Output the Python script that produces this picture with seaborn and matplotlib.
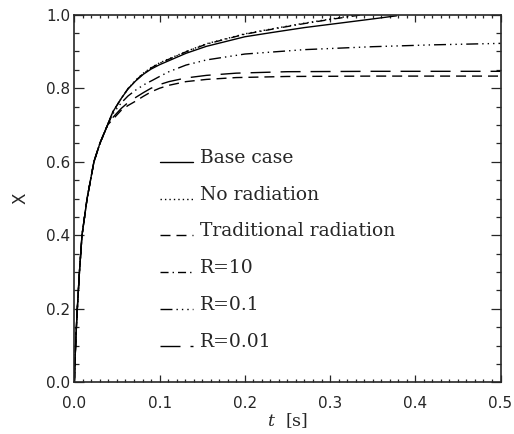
import numpy as np
import pandas as pd
import matplotlib
matplotlib.use("Agg")
import matplotlib.pyplot as plt
from matplotlib.ticker import MultipleLocator
import seaborn as sns

# --- data ---
t_early = [0, 0.001, 0.002, 0.0035, 0.006, 0.009, 0.015, 0.023, 0.03, 0.039]
x_early = [0, 0.07, 0.13, 0.2, 0.3, 0.4, 0.5, 0.6, 0.65, 0.7]

t_base = t_early + [0.045, 0.055, 0.063, 0.072, 0.081, 0.09, 0.1, 0.111, 0.131, 0.155, 0.2, 0.233, 0.27, 0.311, 0.345, 0.378]
x_base = x_early + [0.735, 0.772, 0.798, 0.82, 0.838, 0.852, 0.864, 0.875, 0.895, 0.914, 0.94, 0.952, 0.965, 0.977, 0.987, 0.997]

t_norad = t_early + [0.045, 0.055, 0.063, 0.072, 0.081, 0.09, 0.1, 0.111, 0.131, 0.155, 0.2, 0.233, 0.27, 0.3, 0.33]
x_norad = x_early + [0.735, 0.772, 0.799, 0.822, 0.841, 0.856, 0.869, 0.88, 0.9, 0.921, 0.948, 0.962, 0.977, 0.988, 0.999]

t_r10 = t_early + [0.045, 0.055, 0.063, 0.072, 0.081, 0.09, 0.1, 0.111, 0.131, 0.155, 0.2, 0.233, 0.27, 0.3, 0.335]
x_r10 = x_early + [0.735, 0.772, 0.799, 0.821, 0.84, 0.855, 0.868, 0.879, 0.899, 0.92, 0.947, 0.961, 0.976, 0.987, 0.999]

t_r01 = t_early + [0.045, 0.055, 0.063, 0.072, 0.082, 0.092, 0.1, 0.111, 0.131, 0.155, 0.2, 0.27, 0.35, 0.42, 0.5]
x_r01 = x_early + [0.73, 0.76, 0.779, 0.795, 0.81, 0.822, 0.832, 0.845, 0.863, 0.877, 0.893, 0.905, 0.913, 0.918, 0.922]

t_r001 = t_early + [0.045, 0.055, 0.063, 0.072, 0.081, 0.09, 0.1, 0.111, 0.131, 0.155, 0.19, 0.25, 0.35, 0.5]
x_r001 = x_early + [0.72, 0.745, 0.761, 0.775, 0.788, 0.80, 0.81, 0.818, 0.828, 0.835, 0.841, 0.845, 0.846, 0.846]

t_trad = t_early + [0.045, 0.055, 0.063, 0.072, 0.081, 0.09, 0.1, 0.111, 0.131, 0.155, 0.19, 0.25, 0.35, 0.5]
x_trad = x_early + [0.715, 0.74, 0.753, 0.765, 0.778, 0.79, 0.80, 0.808, 0.818, 0.824, 0.829, 0.832, 0.833, 0.833]

labels = ["Base case", "No radiation", "Traditional radiation", "R=10", "R=0.1", "R=0.01"]
series = [(t_base, x_base), (t_norad, x_norad), (t_trad, x_trad),
          (t_r10, x_r10), (t_r01, x_r01), (t_r001, x_r001)]

# IDL-like line styles (points, unscaled)
styles = [
    "-",
    (0, (1.0, 2.2)),
    (0, (7.2, 4.3)),
    (0, (5.8, 2.9, 1.0, 2.9)),
    (0, (8.6, 2.9, 1.0, 2.9, 1.0, 2.9, 1.0, 2.9)),
    (0, (14.4, 7.2)),
]

sns.set_style("ticks")
plt.rcParams['font.family'] = ['DejaVu Sans']
plt.rcParams['mathtext.fontset'] = 'dejavuserif'
plt.rcParams['lines.scale_dashes'] = False

fig = plt.figure(figsize=(5.14, 4.34), dpi=100)
ax = fig.add_axes([0.1446, 0.1191, 0.8292, 0.847])

for (tt, xx), lab, ls in zip(series, labels, styles):
    df = pd.DataFrame({"t": tt, "X": xx})
    sns.lineplot(data=df, x="t", y="X", ax=ax, color="black", lw=1.0,
                 linestyle=ls, estimator=None, sort=False, legend=False)

# hand-drawn legend inside the plot, like the original
for i, (lab, ls) in enumerate(zip(labels, styles)):
    yy = 0.6 - 0.1 * i
    ax.plot([0.1, 0.139], [yy, yy], color="black", lw=1.0, linestyle=ls)
    ax.text(0.147, yy - 0.003, lab, fontsize=13.5, family="DejaVu Serif",
            va="baseline", ha="left")

ax.set_xlim(0, 0.5)
ax.set_ylim(0, 1.0)
ax.xaxis.set_major_locator(MultipleLocator(0.1))
ax.xaxis.set_minor_locator(MultipleLocator(0.01))
ax.yaxis.set_major_locator(MultipleLocator(0.2))
ax.yaxis.set_minor_locator(MultipleLocator(0.05))
ax.xaxis.set_major_formatter(plt.FormatStrFormatter('%.1f'))
ax.yaxis.set_major_formatter(plt.FormatStrFormatter('%.1f'))

ax.tick_params(which="both", direction="in", top=True, right=True, labelsize=11, width=0.9)
ax.tick_params(axis="x", which="major", length=5, pad=10)
ax.tick_params(axis="x", which="minor", length=2.3)
ax.tick_params(axis="y", which="major", length=7.5, pad=3)
ax.tick_params(axis="y", which="minor", length=3.7)
for sp in ax.spines.values():
    sp.set_linewidth(1.2)
    sp.set_visible(True)

ax.set_xlabel(r"$t$  [s]", fontsize=12.5, family="DejaVu Serif", labelpad=0)
ax.set_ylabel("X", fontsize=12, labelpad=12)

fig.savefig("out.png", dpi=100)
